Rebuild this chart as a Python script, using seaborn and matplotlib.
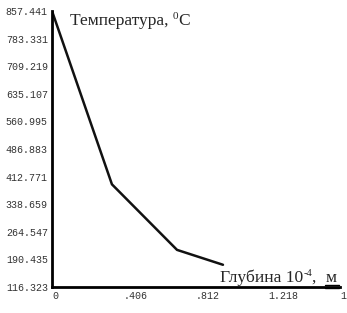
import pandas as pd
import seaborn as sns
import matplotlib.pyplot as plt
from matplotlib.transforms import offset_copy

# данные
glubina = [0.0, 0.338, 0.705, 0.964]
temperatura = [857.441, 392.0, 216.0, 176.0]
y_ticks = [116.323, 190.435, 264.547, 338.659, 412.771, 486.883,
           560.995, 635.107, 709.219, 783.331, 857.441]
x_ticks = [0.0, 0.406, 0.812, 1.218, 1.624]
x_labels = ["0", ".406", ".812", "1.218", "1.624"]

df = pd.DataFrame({"glubina": glubina, "temperatura": temperatura})

sns.set_style("white")

fig = plt.figure(figsize=(3.47, 3.13), dpi=100)
ax = fig.add_axes([52 / 347, 26 / 313, 288 / 347, 276 / 313])

sns.lineplot(data=df, x="glubina", y="temperatura", ax=ax,
             color="#111111", linewidth=1.8)

ax.set_xlim(0, 1.624)
ax.set_ylim(116.323, 857.441)
ax.set_yticks(y_ticks)
ax.set_yticklabels([f"{v:.3f}" for v in y_ticks],
                   family="Liberation Mono", fontsize=7.2, color="#333333")
ax.set_xticks(x_ticks)
ax.set_xticklabels(x_labels, family="Liberation Mono", fontsize=7.2,
                   color="#333333", ha="left")
ax.tick_params(length=0, pad=3)
ax.set_xlabel("")
ax.set_ylabel("")

for s in ["top", "right"]:
    ax.spines[s].set_visible(False)
for s in ["left", "bottom"]:
    ax.spines[s].set_linewidth(2)
    ax.spines[s].set_color("black")


# подписи собираются из кусков: основной текст + верхний индекс
def chain(parts, x, y):
    renderer = fig.canvas.get_renderer()
    tr = fig.transFigure
    dx = 0
    items = []
    for txt, size, dy in parts:
        t = fig.text(x, y, txt, family="Liberation Serif", fontsize=size,
                     ha="left", va="baseline",
                     transform=offset_copy(tr, fig=fig, x=dx, y=dy, units="dots"))
        dx += t.get_window_extent(renderer).width
        items.append(t)
    return items


chain([("Температура, ", 12.5, 0), ("0", 8, 6), ("C", 12.5, 0)],
      70 / 347, 1 - 25 / 313)
parts = chain([("Глубина 10", 12.6, 0), ("-4", 7.5, 6), (",  ", 12.6, 0), ("м", 12.6, 0)],
              220 / 347, 1 - 282 / 313)

# двойное подчёркивание "м"
bb = parts[-1].get_window_extent(fig.canvas.get_renderer())
for yy in (285, 288):
    fig.add_artist(plt.Line2D([bb.x0 / 347, (bb.x1 + 3) / 347],
                              [1 - yy / 313, 1 - yy / 313],
                              color="black", linewidth=1))

fig.savefig("out.png", dpi=100)
